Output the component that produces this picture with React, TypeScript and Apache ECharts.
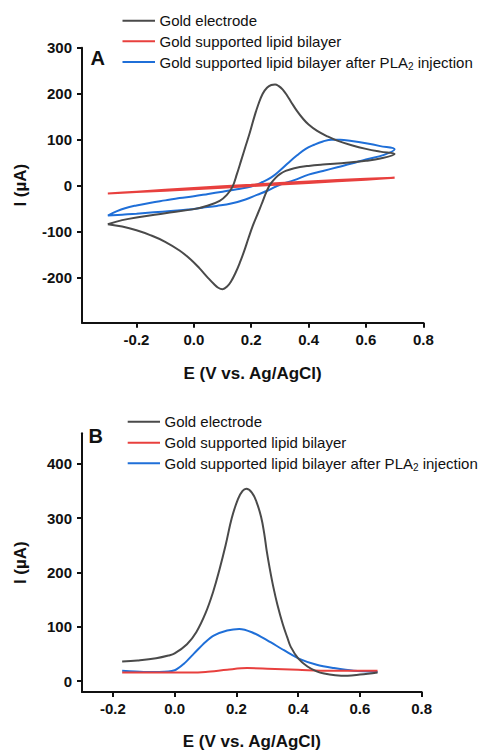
import React, { useEffect, useRef } from "react";
import * as echarts from "echarts";

// ---------- Data ----------
const legendLabels = [
  "Gold electrode",
  "Gold supported lipid bilayer",
  "Gold supported lipid bilayer after PLA",
];

// Panel A: cyclic voltammograms (E in V, I in µA) – forward scan then reverse scan
const goldCV_E = [-0.3, -0.25, -0.2, -0.1, 0, 0.05, 0.09, 0.115, 0.135, 0.15, 0.165, 0.18, 0.195, 0.21, 0.225, 0.24, 0.255, 0.27, 0.283, 0.295, 0.31, 0.325, 0.34, 0.36, 0.38, 0.4, 0.43, 0.466, 0.5, 0.55, 0.6, 0.65, 0.7,
  0.65, 0.6, 0.55, 0.5, 0.45, 0.4, 0.35, 0.32, 0.3, 0.285, 0.27, 0.26, 0.25, 0.24, 0.23, 0.22, 0.205, 0.19, 0.175, 0.16, 0.145, 0.13, 0.115, 0.1, 0.085, 0.07, 0.05, 0.02, -0.01, -0.05, -0.1, -0.15, -0.2, -0.25, -0.3];
const goldCV_I = [-84, -75, -69, -60, -51, -43, -33, -20, -2, 25, 55, 85, 115, 148, 177, 200, 213, 219, 220, 217, 209, 196, 181, 162, 146, 133, 119, 107, 98, 88, 80, 74, 69,
  59, 54, 51, 48, 46, 43, 38, 32, 25, 17, 6, -4, -18, -34, -50, -65, -88, -115, -143, -168, -190, -208, -220, -225, -222, -214, -201, -180, -161, -141, -122, -108, -97, -89, -84];

const lipidCV_E = [-0.3, -0.2, 0, 0.2, 0.4, 0.6, 0.7, 0.6, 0.4, 0.2, 0, -0.2, -0.3];
const lipidCV_I = [-17, -13, -5, 2, 9, 15, 17, 13, 6, -1, -8, -14, -17];

const plaCV_E = [-0.3, -0.27, -0.24, -0.2, -0.15, -0.1, -0.05, 0, 0.05, 0.1, 0.15, 0.2, 0.24, 0.27, 0.3, 0.33, 0.36, 0.39, 0.42, 0.45, 0.48, 0.51, 0.55, 0.6, 0.65, 0.7,
  0.663, 0.6, 0.55, 0.5, 0.45, 0.4, 0.35, 0.3, 0.26, 0.22, 0.18, 0.13, 0.08, 0.03, -0.02, -0.08, -0.14, -0.2, -0.25, -0.3];
const plaCV_I = [-65, -56, -49, -43, -37, -32, -27, -23, -18, -13, -8, -2, 8, 18, 33, 50, 66, 80, 89, 96, 100, 100, 97, 92, 86, 79,
  67, 57, 48, 40, 32, 24, 12, 2, -10, -20, -30, -39, -44, -48, -52, -55, -58, -61, -63, -65];

// Panel B: differential pulse voltammograms
const goldDPV_E = [-0.17, -0.12, -0.06, -0.02, 0, 0.04, 0.07, 0.1, 0.125, 0.145, 0.165, 0.185, 0.205, 0.22, 0.232, 0.25, 0.265, 0.28, 0.29, 0.298, 0.308, 0.32, 0.333, 0.35, 0.365, 0.376, 0.4, 0.43, 0.46, 0.484, 0.52, 0.56, 0.6, 0.657];
const goldDPV_I = [36, 38, 42, 47, 51, 68, 90, 125, 165, 205, 250, 300, 335, 350, 354, 347, 330, 302, 272, 240, 207, 172, 140, 105, 80, 63, 42, 27, 18, 14, 11, 10, 12, 16];

const lipidDPV_E = [-0.17, -0.05, 0.05, 0.1, 0.17, 0.235, 0.3, 0.4, 0.5, 0.657];
const lipidDPV_I = [16, 16, 16, 17, 21, 24, 23, 21, 19, 19];

const plaDPV_E = [-0.17, -0.1, -0.05, 0, 0.03, 0.063, 0.1, 0.128, 0.17, 0.209, 0.25, 0.3, 0.354, 0.408, 0.46, 0.516, 0.58, 0.657];
const plaDPV_I = [19, 17, 17, 20, 32, 51, 72, 84, 93, 96, 90, 75, 57, 40, 30, 24, 19, 17];

// Tick labels
const xTicks = [-0.2, 0, 0.2, 0.4, 0.6, 0.8];
const yTicksA = [-200, -100, 0, 100, 200, 300];
const yTicksB = [0, 100, 200, 300, 400];

const colors = ["#4a4a4a", "#e8403e", "#1f6fd8"];
const FONT = "'Liberation Sans', Arial, sans-serif";

const zip = (xs: number[], ys: number[]) => xs.map((x, i) => [x, ys[i]]);

function xAxisCfg(gridIndex: number, min: number, nameGap: number) {
  return {
    type: "value" as const,
    gridIndex,
    min,
    max: 0.8,
    name: "E (V vs. Ag/AgCl)",
    nameLocation: "middle" as const,
    nameGap,
    nameTextStyle: { fontFamily: FONT, fontWeight: "bold", fontSize: 17, color: "#111" },
    axisLine: { show: true, onZero: false, lineStyle: { color: "#111", width: 2 } },
    axisTick: { show: true, length: 5, lineStyle: { color: "#111", width: 2 }, customValues: xTicks },
    axisLabel: {
      color: "#111",
      fontFamily: FONT,
      fontWeight: "bold",
      fontSize: 15,
      margin: 9,
      customValues: xTicks,
      formatter: (v: number) => v.toFixed(1),
    },
    splitLine: { show: false },
  };
}

function yAxisCfg(gridIndex: number, min: number, max: number, ticks: number[]) {
  return {
    type: "value" as const,
    gridIndex,
    min,
    max,
    name: "I (µA)",
    nameLocation: "middle" as const,
    nameGap: 53,
    nameRotate: 90,
    nameTextStyle: { fontFamily: FONT, fontWeight: "bold", fontSize: 17, color: "#111" },
    axisLine: { show: true, onZero: false, lineStyle: { color: "#111", width: 2 } },
    axisTick: { show: true, length: 5, lineStyle: { color: "#111", width: 2 }, customValues: ticks },
    axisLabel: {
      color: "#111",
      fontFamily: FONT,
      fontWeight: "bold",
      fontSize: 15,
      margin: 10,
      customValues: ticks,
    },
    splitLine: { show: false },
  };
}

function legendGraphics(x0: number, x1: number, ys: number[]) {
  const els: any[] = [];
  ys.forEach((y, i) => {
    els.push({
      type: "line",
      shape: { x1: x0, y1: y, x2: x1, y2: y },
      style: { stroke: colors[i], lineWidth: 2 },
    });
    const isLast = i === 2;
    els.push({
      type: "text",
      x: x1 + 4.5,
      y,
      style: isLast
        ? {
            text: `{n|${legendLabels[i]}}{s|2}{n| injection}`,
            verticalAlign: "middle",
            align: "left",
            rich: {
              n: { fontFamily: FONT, fontSize: 15, lineHeight: 18, fill: "#111", verticalAlign: "middle" },
              s: { fontFamily: FONT, fontSize: 10, lineHeight: 10, fill: "#111", verticalAlign: "bottom" },
            },
          }
        : {
            text: legendLabels[i],
            fontFamily: FONT,
            fontSize: 15,
            fill: "#111",
            verticalAlign: "middle",
            align: "left",
          },
    });
  });
  return els;
}

export default function App() {
  const ref = useRef<HTMLDivElement>(null);

  useEffect(() => {
    document.body.style.margin = "0";
    if (!ref.current) return;
    const chart = echarts.init(ref.current, null, { renderer: "svg" });

    const lineSeries = (name: string, data: number[][], ci: number, axis: number, smooth: number) => ({
      type: "line" as const,
      name,
      data,
      xAxisIndex: axis,
      yAxisIndex: axis,
      showSymbol: false,
      smooth,
      lineStyle: { color: colors[ci], width: 2 },
      itemStyle: { color: colors[ci] },
      z: 3 - ci,
    });

    chart.setOption({
      animation: false,
      backgroundColor: "#ffffff",
      grid: [
        { left: 82, right: 61.7, top: 47.7, bottom: 428.3 },
        { left: 82, right: 63.3, top: 433.3, bottom: 51 },
      ],
      xAxis: [xAxisCfg(0, -0.39, 42), xAxisCfg(1, -0.3, 41)],
      yAxis: [yAxisCfg(0, -298, 300, yTicksA), yAxisCfg(1, -20, 456, yTicksB)],
      series: [
        lineSeries(legendLabels[0], zip(goldCV_E, goldCV_I), 0, 0, 0.4),
        lineSeries(legendLabels[1], zip(lipidCV_E, lipidCV_I), 1, 0, 0.2),
        lineSeries(legendLabels[2] + "2 injection", zip(plaCV_E, plaCV_I), 2, 0, 0.4),
        lineSeries(legendLabels[0] + " (DPV)", zip(goldDPV_E, goldDPV_I), 0, 1, 0.4),
        lineSeries(legendLabels[1] + " (DPV)", zip(lipidDPV_E, lipidDPV_I), 1, 1, 0.3),
        lineSeries(legendLabels[2] + "2 injection (DPV)", zip(plaDPV_E, plaDPV_I), 2, 1, 0.3),
      ],
      graphic: [
        ...legendGraphics(122.5, 155, [20.7, 41.3, 62]),
        ...legendGraphics(127.7, 160, [421.7, 442.7, 463.3]),
        {
          type: "text",
          x: 90.5,
          y: 58,
          style: { text: "A", fontFamily: FONT, fontWeight: "bold", fontSize: 20, fill: "#111", verticalAlign: "middle" },
        },
        {
          type: "text",
          x: 88.5,
          y: 435.5,
          style: { text: "B", fontFamily: FONT, fontWeight: "bold", fontSize: 20, fill: "#111", verticalAlign: "middle" },
        },
      ],
    });

    return () => chart.dispose();
  }, []);

  return (
    <div
      ref={ref}
      style={{ position: "absolute", left: 0, top: 0, width: 485, height: 751, background: "#fff" }}
    />
  );
}
